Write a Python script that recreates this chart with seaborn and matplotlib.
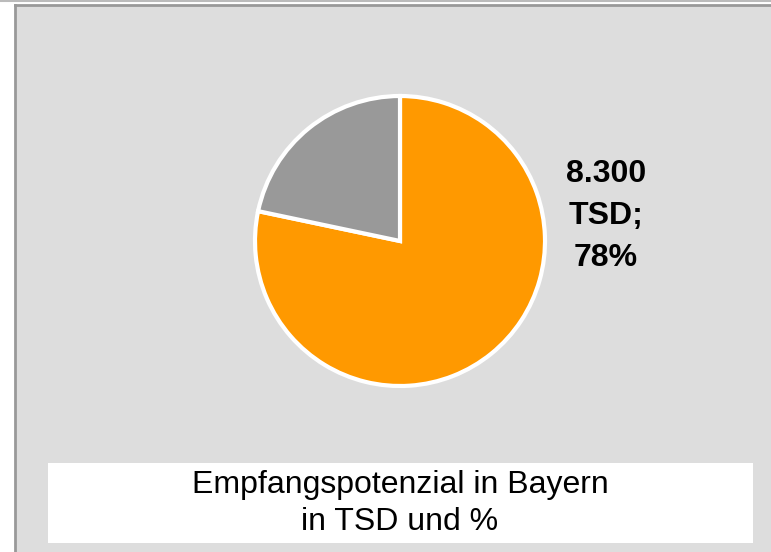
import matplotlib
matplotlib.use("Agg")
import matplotlib.pyplot as plt
from matplotlib.patches import Rectangle
from matplotlib.lines import Line2D
import seaborn as sns

# -----------------------------
# Data
# -----------------------------
segments = ["Empfang", "Rest"]
values_tsd = [8300, 2300]
colors = ["#FF9900", "#999999"]
title_lines = ["Empfangspotenzial in Bayern", "in TSD und %"]

sns.set_theme(style="white")
plt.rcParams['font.family'] = ['Liberation Sans', 'DejaVu Sans']

W, H = 771, 552
fig = plt.figure(figsize=(W / 100, H / 100), dpi=100)
fig.patch.set_facecolor("white")

# top rule across the whole image
fig.add_artist(Line2D([0, 1], [1 - 1 / H, 1 - 1 / H], transform=fig.transFigure,
                      color="#BBBBBB", lw=1.5))

# grey panel
panel = fig.add_axes([15 / W, 0, 1 - 15 / W, (H - 5) / H])
panel.set_facecolor("#DDDDDD")
panel.set_xticks([])
panel.set_yticks([])
for side in ["right", "bottom"]:
    panel.spines[side].set_visible(False)
for side in ["left", "top"]:
    panel.spines[side].set_color("#999999")
    panel.spines[side].set_linewidth(2)

# white caption box
fig.add_artist(Rectangle((48 / W, 1 - 543 / H), (753 - 48) / W, 80 / H,
                         transform=fig.transFigure, facecolor="white",
                         edgecolor="none"))
fig.text(400 / W, 1 - 503.5 / H, "\n".join(title_lines), ha="center", va="center",
         fontsize=23, color="black", linespacing=1.27)

# pie
cx, cy, r = 400, 241, 145
ax = fig.add_axes([(cx - r) / W, 1 - (cy + r) / H, 2 * r / W, 2 * r / H])
wedges, _ = ax.pie(values_tsd, colors=colors, startangle=90, counterclock=False,
                   radius=1, wedgeprops=dict(edgecolor="white", linewidth=3))
ax.set_xlim(-1, 1)
ax.set_ylim(-1, 1)
ax.set_aspect("equal")
ax.axis("off")

total = sum(values_tsd)
v = values_tsd[0]
label = f"{v / 1000:.3f}" + "\nTSD;\n" + f"{round(100 * v / total)}%"
ax.text(1.42, 0.17, label, ha="center", va="center", fontsize=23,
        fontweight="bold", linespacing=1.52, color="black")

fig.savefig("out.png", dpi=100)
